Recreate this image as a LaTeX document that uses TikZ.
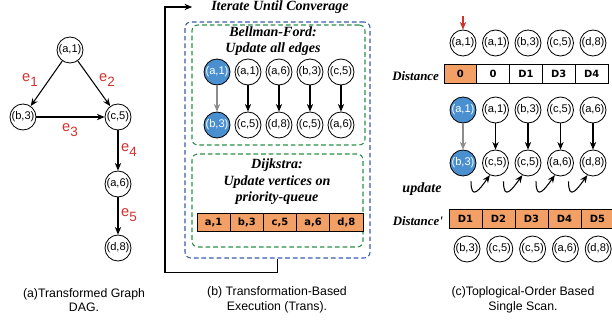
\documentclass[tikz,border=0pt]{standalone}
\usepackage{fontspec}
\setmainfont{Liberation Sans}
\newfontfamily\headfont{Liberation Serif}
\newfontfamily\cellfont{DejaVu Sans}
\usetikzlibrary{arrows.meta, calc}
\definecolor{dgBlue}{HTML}{4A90D0}
\definecolor{dgOrange}{HTML}{F2A065}
\definecolor{dgRed}{HTML}{D0312D}
\definecolor{dgGreen}{HTML}{2A8F45}
\definecolor{dgFrame}{HTML}{3A5BAA}
\definecolor{dgGray}{HTML}{8C8C8C}
\tikzset{
  vertex/.style={
    circle, draw, line width=0.7pt,
    minimum size=0.78cm, inner sep=0pt,
    font=\fontsize{9.5}{11}\selectfont
  },
  hotvertex/.style={vertex, fill=dgBlue, text=white},
  cell/.style={
    rectangle, draw, line width=0.7pt,
    fill=#1,
    minimum width=0.99cm, minimum height=0.56cm, inner sep=0pt,
    font=\cellfont\bfseries\fontsize{8.5}{10}\selectfont
  },
  cell/.default=white,
  link/.style={
    -{Stealth[length=2.3mm, width=1.9mm]},
    line width=0.9pt
  },
  greylink/.style={link, dgGray},
  headline/.style={font=\headfont\bfseries\itshape\fontsize{12}{14}\selectfont, align=center},
  rowlabel/.style={font=\headfont\bfseries\itshape\fontsize{11}{13}\selectfont, anchor=east},
  elabel/.style={text=dgRed, font=\fontsize{12.5}{14}\selectfont},
  capt/.style={align=center, font=\fontsize{10.5}{12.5}\selectfont},
  outerbox/.style={draw=dgFrame, dash pattern=on 4pt off 2.5pt, line width=0.9pt, rounded corners=5pt},
  innerbox/.style={draw=dgGreen, dash pattern=on 4pt off 2.5pt, line width=0.9pt, rounded corners=5pt}
}
\newcommand{\esub}[1]{e\raisebox{-0.6ex}{\fontsize{11.5}{13}\selectfont #1}}

\begin{document}
\begin{tikzpicture}[x=0.03cm, y=-0.03cm]
  \useasboundingbox (0,0) rectangle (612,323);

  % (a) transformed graph
  \node[vertex] (ga1) at (70,50) {(a,1)};
  \node[vertex] (gb3) at (23,117) {(b,3)};
  \node[vertex] (gc5) at (118,117) {(c,5)};
  \node[vertex] (ga6) at (118,184) {(a,6)};
  \node[vertex] (gd8) at (118,248) {(d,8)};
  \draw[link] (ga1) -- (gb3);
  \draw[link] (ga1) -- (gc5);
  \draw[link] (gb3) -- (gc5);
  \draw[link] (gc5) -- (ga6);
  \draw[link] (ga6) -- (gd8);
  \node[elabel] (e1) at (30,80) {\esub{1}};
  \node[elabel] (e2) at (107,80) {\esub{2}};
  \node[elabel] (e3) at (70,130) {\esub{3}};
  \node[elabel] (e4) at (129,150) {\esub{4}};
  \node[elabel] (e5) at (129,215) {\esub{5}};
  \node[capt] (capa) at (84,300) {(a)Transformed Graph\\DAG.};

  % (b) transformation-based execution
  \node[headline] (iterate) at (280,7) {Iterate Until Converage};
  \node[outerbox, minimum width=5.55cm, minimum height=7.08cm] (iterbox) at (277.5,140) {};
  \node[innerbox, minimum width=5.19cm, minimum height=3.6cm] (bfbox) at (278.5,85) {};
  \node[innerbox, minimum width=5.13cm, minimum height=2.79cm] (djbox) at (277.5,200.5) {};
  \node[headline] (bftitle) at (273,41) {Bellman-Ford:\\Update all edges};
  \node[headline] (djtitle) at (277,182) {Dijkstra:\\Update vertices on\\priority-queue};
  \node[hotvertex] (bt1) at (217,72) {(a,1)};
  \node[hotvertex] (bb1) at (217,125) {(b,3)};
  \foreach \t/\b [count=\i from 2] in {{(a,1)}/{(c,5)}, {(a,6)}/{(d,8)}, {(b,3)}/{(c,5)}, {(c,5)}/{(a,6)}} {
    \node[vertex] (bt\i) at ({217+31*(\i-1)},72) {\t};
    \node[vertex] (bb\i) at ({217+31*(\i-1)},125) {\b};
    \draw[link] (bt\i) -- (bb\i);
  }
  \draw[greylink] (bt1) -- (bb1);
  \foreach \q [count=\i] in {{a,1},{b,3},{c,5},{a,6},{d,8}}
    \node[cell=dgOrange, minimum width=0.996cm] (pq\i) at ({213.6+33.2*(\i-1)},222.5) {\q};
  \draw[link] (iterbox.south) -- ++(0,14) -| (165,7) -- ([xshift=-0.45cm]iterate.west);
  \node[capt] (capb) at (277,300) {(b) Transformation-Based\\Execution (Trans).};

  % (c) topological-order single scan
  \foreach \t [count=\i] in {{(a,1)},{(a,1)},{(b,3)},{(c,5)},{(d,8)}}
    \node[vertex] (ct\i) at ({463+32.5*(\i-1)},43) {\t};
  \coordinate (mark) at (463,16);
  \draw[link, dgRed] (mark) -- (ct1);
  \node[cell=dgOrange, minimum width=0.984cm] (cd1) at (460.4,74) {0};
  \foreach \d [count=\i from 2] in {0,D1,D3,D4}
    \node[cell, minimum width=0.984cm] (cd\i) at ({460.4+32.8*(\i-1)},74) {\d};
  \node[rowlabel] (dist) at (443,76) {Distance};

  \node[hotvertex] (cu1) at (463,110) {(a,1)};
  \node[hotvertex] (cl1) at (463,163) {(b,3)};
  \foreach \t/\b [count=\i from 2] in {{(a,1)}/{(c,5)}, {(b,3)}/{(c,5)}, {(c,5)}/{(a,6)}, {(a,6)}/{(d,8)}} {
    \node[vertex] (cu\i) at ({463+32.5*(\i-1)},110) {\t};
    \node[vertex] (cl\i) at ({463+32.5*(\i-1)},163) {\b};
    \draw[link] (cu\i) -- (cl\i);
  }
  \draw[greylink] (cu1) -- (cl1);
  \foreach \i/\j in {1/2, 2/3, 3/4, 4/5}
    \draw[link] ($(cl\i.south)+(8,5)$) .. controls +(0,20) and +(-10,14) .. (cl\j.245);
  \node[headline] (upd) at (422,189) {update};

  \foreach \d [count=\i] in {D1,D2,D3,D4,D5}
    \node[cell=dgOrange] (cp\i) at ({465.5+33*(\i-1)},219) {\d};
  \node[rowlabel] (distp) at (447,221) {Distance'};
  \foreach \t [count=\i] in {{(b,3)},{(c,5)},{(c,5)},{(a,6)},{(d,8)}}
    \node[vertex] (cb\i) at ({467+32.8*(\i-1)},249) {\t};
  \node[capt] (capc) at (523,300) {(c)Toplogical-Order Based\\Single Scan.};
\end{tikzpicture}
\end{document}
